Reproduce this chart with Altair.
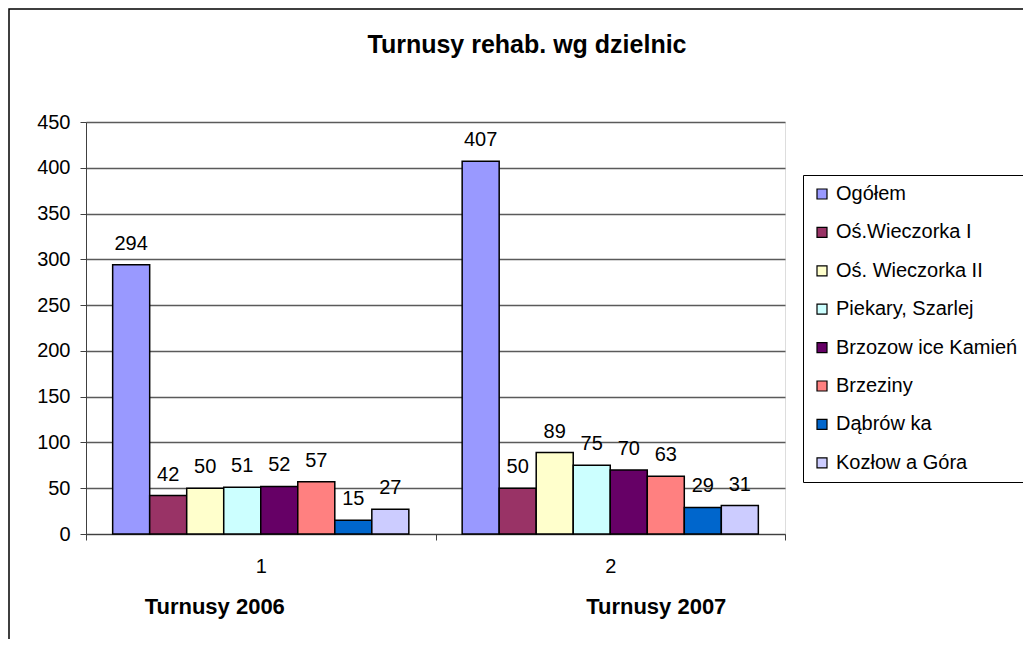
import altair as alt
import pandas as pd

title_text = "Turnusy rehab. wg dzielnic"
groups = ["1", "2"]
group_titles = ["Turnusy 2006", "Turnusy 2007"]
series = ["Ogółem", "Oś.Wieczorka I", "Oś. Wieczorka II", "Piekary, Szarlej",
          "Brzozow ice Kamień", "Brzeziny", "Dąbrów ka", "Kozłow a Góra"]
values_2006 = [294, 42, 50, 51, 52, 57, 15, 27]
values_2007 = [407, 50, 89, 75, 70, 63, 29, 31]
colors = ["#9999FF", "#993366", "#FFFFCC", "#CCFFFF", "#660066", "#FF8080", "#0066CC", "#CCCCFF"]

rows = []
for g, vals in zip(groups, [values_2006, values_2007]):
    for s, v in zip(series, vals):
        rows.append({"grupa": g, "seria": s, "wartosc": v})
df = pd.DataFrame(rows)

W, H = 699, 412
FONT = "Liberation Sans"
FS = 20

x_enc = alt.X("grupa:N", sort=groups, title=None,
              scale=alt.Scale(paddingInner=0, paddingOuter=0),
              axis=alt.Axis(labelAngle=0, labelFontSize=FS, labelColor="black", labelFont=FONT,
                            tickBand="extent", tickSize=6, tickColor="#404040", domainColor="#404040",
                            labelPadding=16, grid=False))
xo_enc = alt.XOffset("seria:N", sort=series, scale=alt.Scale(paddingOuter=0.72, paddingInner=0))
y_enc = alt.Y("wartosc:Q", title=None,
              scale=alt.Scale(domain=[0, 450], nice=False),
              axis=alt.Axis(values=list(range(0, 451, 50)), labelFontSize=FS, labelColor="black",
                            labelFont=FONT, tickSize=6, tickColor="#404040", domainColor="#404040",
                            gridColor="#5a5a5a", gridWidth=1.5, labelPadding=10))

frame = alt.Chart(pd.DataFrame({"a": [0]})).mark_rect(
    fill="white", fillOpacity=0, stroke="black", strokeWidth=1.5, clip=False
).encode(x=alt.value(-77), x2=alt.value(W + 300), y=alt.value(-113), y2=alt.value(H + 300))

title_df = pd.DataFrame({"t": [title_text]})
title = alt.Chart(title_df).mark_text(fontSize=25, fontWeight="bold", font=FONT, color="black",
                                      align="center", baseline="middle").encode(
    x=alt.value(441), y=alt.value(-77), text="t:N")

bars = alt.Chart(df).mark_bar(stroke="black", strokeWidth=1.5).encode(
    x=x_enc, xOffset=xo_enc, y=y_enc,
    color=alt.Color("seria:N", sort=series, scale=alt.Scale(domain=series, range=colors),
                    legend=alt.Legend(title=None, orient="none", legendX=717, legendY=53,
                                      labelFontSize=FS, labelFont=FONT, labelColor="black",
                                      symbolType="square", symbolSize=100, symbolStrokeColor="black",
                                      symbolStrokeWidth=1.2, rowPadding=18.4, padding=9,
                                      strokeColor="black", fillColor="white", labelLimit=300,
                                      symbolOpacity=1))
)

labels = alt.Chart(df).mark_text(baseline="bottom", dy=-11, fontSize=FS, font=FONT, color="black").encode(
    x=alt.X("grupa:N", sort=groups), xOffset=alt.XOffset("seria:N", sort=series), y="wartosc:Q",
    text="wartosc:Q"
)

tdf = pd.DataFrame({"grupa": groups, "tytul": group_titles})
t1 = alt.Chart(tdf[tdf.grupa == "1"]).mark_text(fontSize=22, fontWeight="bold", font=FONT, dx=-46,
                                               color="black", baseline="middle").encode(
    x=alt.X("grupa:N", sort=groups), y=alt.value(H + 73), text="tytul:N")
t2 = alt.Chart(tdf[tdf.grupa == "2"]).mark_text(fontSize=22, fontWeight="bold", font=FONT, dx=46,
                                               color="black", baseline="middle").encode(
    x=alt.X("grupa:N", sort=groups), y=alt.value(H + 73), text="tytul:N")

chart = alt.layer(frame, title, bars, labels, t1, t2).properties(
    width=W, height=H,
    autosize=alt.AutoSizeParams(type="none"),
    padding={"left": 78, "top": 114, "right": 238, "bottom": 105},
).configure_view(fill="#C0C0C0", stroke="#808080", strokeWidth=2).configure(background="white")

chart.save("out.html", embed_options={"renderer": "svg", "actions": False})
